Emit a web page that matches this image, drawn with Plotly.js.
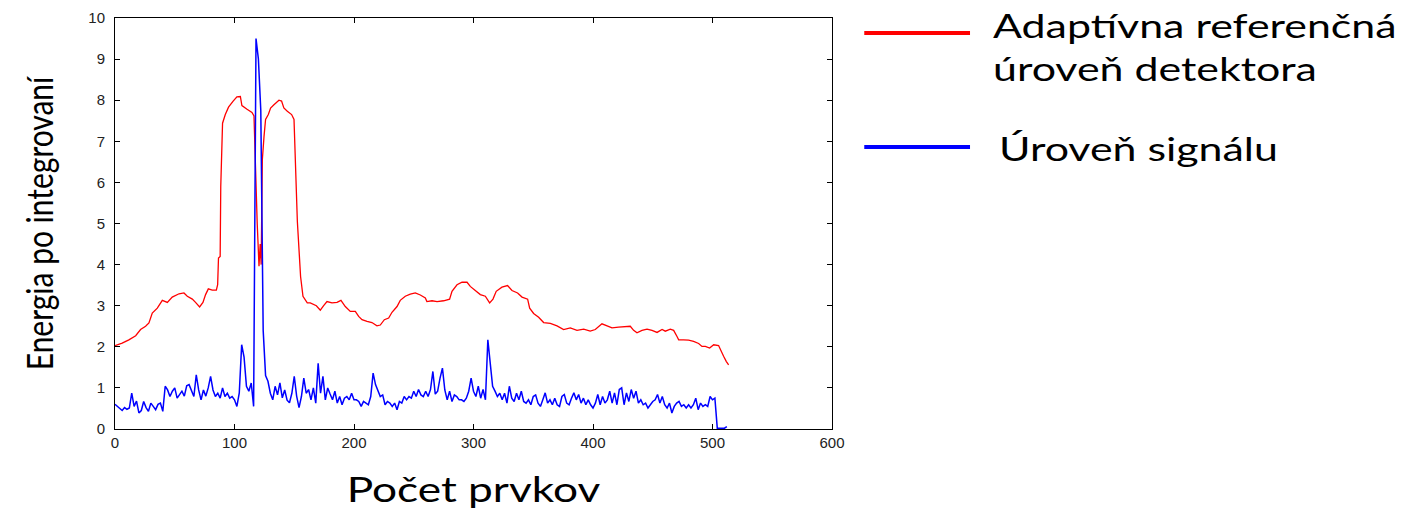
<!DOCTYPE html>
<html>
<head>
<meta charset="utf-8">
<script src="https://cdn.plot.ly/plotly-3.0.1.min.js"></script>
<style>
  html, body { margin: 0; padding: 0; background: #fff; }
  #chart { width: 1415px; height: 509px; }
</style>
</head>
<body>
<div id="chart"></div>
<script>
// Adaptive reference level of the detector (sample index, level)
const refX = [0, 6, 11.6, 17.3, 21.4, 25.6, 28.4, 31.2, 35.4, 39.6, 43.8, 47.9, 53.6, 57.7, 60.5, 64.7, 67.4, 70.8, 73.6, 75.8,
  78.1, 81.4, 84.8, 85.9, 86.6, 88, 88.5, 89, 90, 92.3, 95, 98.7, 102, 104.9, 106.2, 110.5, 114.6, 116.3, 117.1, 117.7,
  119, 120.5, 121.5, 122.3, 122.7, 123.3, 124.7, 126, 128.3, 130.2, 133, 137.2, 139.4, 141.3, 144.2, 147.8, 149.8, 151.1, 152.6, 155.3,
  157.3, 160.9, 163.4, 168.5, 171.8, 174.6, 177.4, 181.6, 185.8, 189.1, 192.7, 196.9, 201.1, 203.9, 206.7, 210.9, 215, 219.2, 222, 225.4,
  229, 231.8, 236, 238.7, 242.9, 247.1, 251.3, 255.5, 259.7, 261, 265.3, 269.5, 275, 280, 282, 286.2, 290.4, 294.6, 297.3, 301.5,
  305.7, 309.9, 313.5, 316.3, 319, 323.8, 328.5, 332.2, 336.9, 340.6, 345.3, 347, 350.3, 354.5, 358.7, 364.3, 369.9, 375.4, 381, 386.6,
  392.2, 397.7, 401.9, 407.5, 411.7, 415.9, 421.4, 427, 431.2, 434, 436.8, 441, 445.2, 449.4, 453.6, 457.8, 460.5, 464.7, 467.5, 470.3,
  471.7, 475.8, 480, 484.2, 488.4, 491.2, 494, 497.6, 501, 505.1, 506.5, 509.3, 511.6, 513.5];
const refY = [2.03, 2.09, 2.17, 2.27, 2.42, 2.50, 2.58, 2.82, 2.94, 3.13, 3.08, 3.21, 3.29, 3.31, 3.23, 3.16, 3.08, 2.97, 3.08, 3.27,
  3.41, 3.38, 3.38, 3.51, 4.16, 4.20, 5.90, 6.67, 7.44, 7.65, 7.83, 7.97, 8.08, 8.09, 7.87, 7.78, 7.70, 7.62, 6.80, 6.23,
  5.00, 3.96, 4.50, 4.00, 4.93, 6.55, 7.12, 7.53, 7.65, 7.81, 7.89, 8.00, 7.98, 7.81, 7.73, 7.65, 7.53, 6.31, 5.05, 3.71,
  3.23, 3.07, 3.07, 3.00, 2.89, 3.00, 3.10, 3.07, 3.08, 3.13, 2.98, 2.86, 2.86, 2.74, 2.66, 2.62, 2.59, 2.51, 2.53, 2.66,
  2.70, 2.84, 2.98, 3.13, 3.23, 3.28, 3.31, 3.26, 3.19, 3.10, 3.12, 3.10, 3.12, 3.16, 3.35, 3.51, 3.57, 3.57, 3.47, 3.37,
  3.27, 3.23, 3.07, 3.16, 3.35, 3.45, 3.49, 3.37, 3.31, 3.21, 3.16, 2.94, 2.81, 2.72, 2.59, 2.57, 2.51, 2.42, 2.46, 2.40,
  2.43, 2.38, 2.42, 2.56, 2.50, 2.46, 2.48, 2.50, 2.50, 2.40, 2.34, 2.40, 2.43, 2.40, 2.35, 2.42, 2.38, 2.43, 2.40, 2.25,
  2.17, 2.17, 2.16, 2.13, 2.08, 2.01, 2.01, 1.97, 2.05, 2.03, 1.93, 1.77, 1.64, 1.56];

// Signal level, one value every 2 samples starting at sample 0
const signalStart = 0;
const signalStep = 2;
const signalY = [
  0.60, 0.55, 0.50, 0.45, 0.52, 0.48, 0.51, 0.87, 0.55, 0.68,
  0.39, 0.45, 0.67, 0.52, 0.43, 0.63, 0.55, 0.47, 0.60, 0.63,
  0.43, 1.04, 0.95, 0.79, 0.92, 1.00, 0.75, 0.85, 0.92, 0.80,
  1.05, 1.08, 0.95, 0.79, 1.32, 0.95, 0.71, 0.95, 0.80, 1.00,
  1.28, 0.95, 0.79, 0.87, 0.75, 1.00, 0.79, 0.87, 0.75, 0.79,
  0.71, 0.55, 0.88, 2.05, 1.75, 1.04, 0.92, 1.12, 0.55, 9.50,
  9.00, 7.75, 2.40, 1.30, 1.16, 0.87, 0.71, 1.04, 0.83, 1.12,
  0.76, 0.95, 0.70, 0.64, 0.87, 1.28, 0.80, 0.52, 0.79, 1.24,
  0.87, 0.96, 0.71, 1.00, 0.63, 1.60, 0.87, 1.28, 0.71, 1.00,
  0.85, 0.71, 0.92, 0.63, 0.79, 0.59, 0.75, 0.79, 0.71, 0.87,
  0.71, 0.71, 0.67, 0.55, 0.67, 0.63, 0.59, 0.79, 1.36, 1.08,
  0.92, 0.79, 0.83, 0.59, 0.67, 0.63, 0.55, 0.63, 0.47, 0.67,
  0.63, 0.79, 0.71, 0.79, 0.75, 0.92, 0.79, 0.96, 0.83, 0.79,
  0.92, 0.79, 0.96, 1.40, 0.85, 0.92, 1.24, 1.48, 0.95, 0.71,
  0.92, 0.67, 0.83, 0.79, 0.71, 0.71, 0.67, 0.75, 0.92, 1.24,
  0.92, 0.79, 1.04, 0.75, 0.96, 0.71, 2.17, 1.50, 1.04, 0.92,
  0.79, 0.87, 0.71, 0.87, 0.63, 1.04, 0.75, 0.67, 0.87, 0.71,
  0.92, 0.67, 0.63, 0.71, 0.59, 0.79, 0.83, 0.63, 0.55, 0.71,
  0.88, 0.63, 0.71, 0.59, 0.75, 0.59, 0.55, 0.79, 0.84, 0.63,
  0.59, 0.75, 0.88, 0.71, 0.84, 0.63, 0.75, 0.59, 0.71, 0.59,
  0.51, 0.63, 0.84, 0.59, 0.79, 0.63, 0.71, 0.92, 0.63, 0.88,
  0.59, 0.96, 1.00, 0.59, 0.88, 0.67, 0.96, 0.75, 0.92, 0.63,
  0.71, 0.59, 0.63, 0.51, 0.59, 0.67, 0.71, 0.84, 0.63, 0.79,
  0.59, 0.51, 0.63, 0.39, 0.55, 0.63, 0.67, 0.55, 0.59, 0.51,
  0.59, 0.51, 0.59, 0.75, 0.47, 0.63, 0.55, 0.59, 0.55, 0.79,
  0.71, 0.75, 0.02, 0.02, 0.02, 0.02, 0.06];

const xTicks = [0, 100, 200, 300, 400, 500, 600];
const yTicks = [0, 1, 2, 3, 4, 5, 6, 7, 8, 9, 10];

const seriesNames = ['Adaptívna referenčná<br>úroveň detektora', 'Úroveň signálu'];
const seriesColors = ['#ff0000', '#0000ff'];

const textFont = 'Lato, "Open Sans", sans-serif';
const tickFont = { family: '"Liberation Sans", Arial, sans-serif', size: 15, color: '#222' };

const traces = [
  {
    x: refX, y: refY, type: 'scatter', mode: 'lines',
    name: seriesNames[0], line: { color: seriesColors[0], width: 1.3 },
    showlegend: false
  },
  {
    y: signalY, x0: signalStart, dx: signalStep, type: 'scatter', mode: 'lines',
    name: seriesNames[1], line: { color: seriesColors[1], width: 1.5 },
    showlegend: false
  }
];

const axisCommon = {
  showline: true, linecolor: '#000', linewidth: 1, mirror: 'ticks',
  ticks: 'inside', ticklen: 5, tickcolor: '#000', tickwidth: 1,
  showgrid: false, zeroline: false, tickfont: tickFont
};

// Legend drawn as long key lines beside two text blocks
const keyLines = [
  { y: 0.9635, color: seriesColors[0] },
  { y: 0.686, color: seriesColors[1] }
];

const layout = {
  width: 1415, height: 509,
  margin: { l: 115, r: 583, t: 18, b: 80 },
  paper_bgcolor: '#fff', plot_bgcolor: '#fff',
  xaxis: Object.assign({}, axisCommon, {
    range: [0, 600], tickvals: xTicks, ticklabelstandoff: 0,
    title: { text: 'Počet prvkov', font: { family: textFont, size: 34, color: '#000' }, standoff: 28 }
  }),
  yaxis: Object.assign({}, axisCommon, {
    range: [0, 10], tickvals: yTicks, ticklabelstandoff: 6,
    title: { text: 'Energia po integrovaní', font: { family: textFont, size: 30, color: '#000' }, standoff: 28 }
  }),
  shapes: keyLines.map(k => ({
    type: 'line', xref: 'paper', yref: 'paper',
    x0: 1.045, x1: 1.1925, y0: k.y, y1: k.y,
    line: { color: k.color, width: 4 }
  })),
  annotations: [
    {
      xref: 'paper', yref: 'paper', x: 1.222, y: 0.93, xanchor: 'left', yanchor: 'middle',
      align: 'left', showarrow: false, text: seriesNames[0],
      font: { family: textFont, size: 33, color: '#000' }
    },
    {
      xref: 'paper', yref: 'paper', x: 1.230, y: 0.684, xanchor: 'left', yanchor: 'middle',
      align: 'left', showarrow: false, text: seriesNames[1],
      font: { family: textFont, size: 33, color: '#000' }
    }
  ]
};

// Widen a text element horizontally on screen, about its left edge or centre
function widenText(el, k, fromLeft) {
  const svg = el.ownerSVGElement;
  const r = el.getBoundingClientRect();
  const sx = fromLeft ? r.left : r.left + r.width / 2;
  const pt = svg.createSVGPoint();
  pt.x = sx; pt.y = r.top;
  const local = pt.matrixTransform(el.parentNode.getScreenCTM().inverse());
  const prev = el.getAttribute('transform') || '';
  el.setAttribute('transform',
    'translate(' + local.x + ',0) scale(' + k + ',1) translate(' + (-local.x) + ',0) ' + prev);
}

Plotly.newPlot('chart', traces, layout, { displayModeBar: false, staticPlot: true }).then(gd => {
  gd.querySelectorAll('.annotation-text').forEach(t => widenText(t, 1.3, true));
  const xt = gd.querySelector('.g-xtitle text');
  if (xt) widenText(xt, 1.3, false);
  const yt = gd.querySelector('.g-ytitle text');
  if (yt) widenText(yt, 1.25, false);
});
</script>
</body>
</html>
